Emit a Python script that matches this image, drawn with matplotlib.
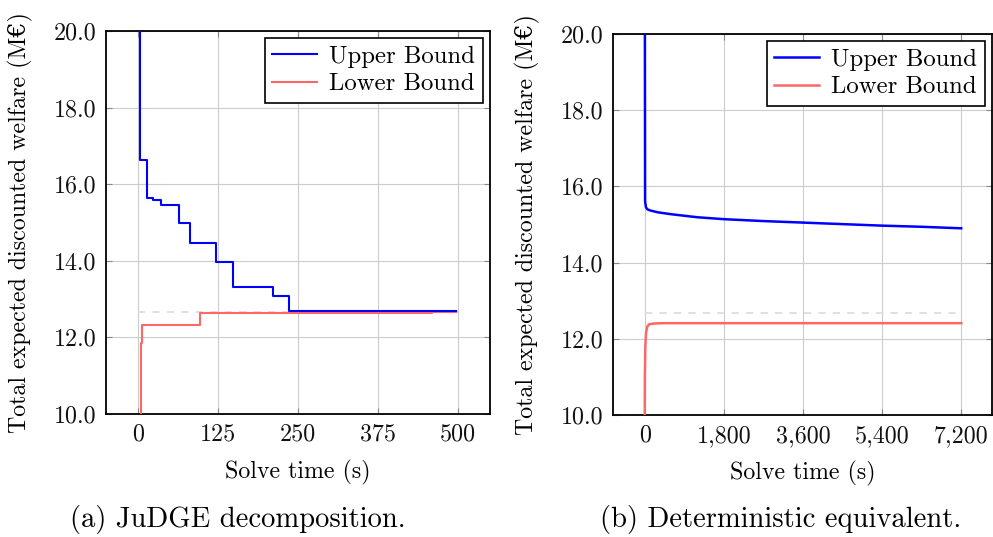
import matplotlib
matplotlib.use("Agg")
import matplotlib.pyplot as plt
from matplotlib.ticker import FixedLocator, FixedFormatter

plt.rcParams['font.family'] = ['cmr10', 'DejaVu Serif']
plt.rcParams['mathtext.fontset'] = 'cm'
plt.rcParams['axes.formatter.use_mathtext'] = True

# JuDGE decomposition data
jd_ub_t = [1.5, 2.5, 13.5, 23, 36, 64.5, 81, 122, 149, 211, 236, 330, 420, 497]
jd_ub_v = [25, 16.63, 15.64, 15.58, 15.45, 14.99, 14.46, 13.98, 13.32, 13.09, 12.70, 12.69, 12.68, 12.68]
jd_lb_t = [3.5, 4.5, 7, 97, 300, 420, 460, 497]
jd_lb_v = [5, 11.85, 12.32, 12.63, 12.63, 12.64, 12.66, 12.66]

# Deterministic equivalent data
de_ub_t = [0, 10, 30, 60, 120, 300, 600, 1200, 1800, 2700, 3600, 4500, 5400, 6300, 7200]
de_ub_v = [25, 15.6, 15.45, 15.40, 15.37, 15.32, 15.27, 15.19, 15.14, 15.09, 15.05, 15.01, 14.97, 14.94, 14.90]
de_lb_t = [0, 5, 15, 30, 60, 100, 200, 400, 7200]
de_lb_v = [9, 11.0, 11.8, 12.15, 12.32, 12.38, 12.40, 12.41, 12.41]

optimum = 12.67

yticks = [10, 12, 14, 16, 18, 20]
ytick_labels = ["10.0", "12.0", "14.0", "16.0", "18.0", "20.0"]
jd_xticks = [0, 125, 250, 375, 500]
jd_xtick_labels = ["0", "125", "250", "375", "500"]
de_xticks = [0, 1800, 3600, 5400, 7200]
de_xtick_labels = ["0", "1,800", "3,600", "5,400", "7,200"]

BLUE = (0, 0, 1)
RED = (1, 0.4, 0.4)

fig = plt.figure(figsize=(9.93, 5.37), dpi=100)
ax1 = fig.add_axes([106/993, 1-414/537, 384/993, 383/537])
ax2 = fig.add_axes([613/993, 1-415/537, 379/993, 381/537])

def style(ax, xticks, xlabels, xlim, tmax):
    ax.set_ylim(10, 20)
    ax.set_xlim(*xlim)
    ax.xaxis.set_major_locator(FixedLocator(xticks))
    ax.xaxis.set_major_formatter(FixedFormatter(xlabels))
    ax.yaxis.set_major_locator(FixedLocator(yticks))
    ax.yaxis.set_major_formatter(FixedFormatter(ytick_labels))
    ax.grid(True, color='#cccccc', lw=0.8)
    ax.set_axisbelow(True)
    ax.tick_params(direction='in', top=True, right=True, length=4, color='#888888',
                   labelsize=17.3, pad=7, labelcolor='#111111')
    for s in ax.spines.values():
        s.set_linewidth(1.3)
        s.set_color('black')
    ax.plot([0, tmax], [optimum, optimum], color='#dddddd', lw=1.3, ls=(0, (4, 4)), zorder=1.5)
    ax.set_xlabel("Solve time (s)", fontsize=17.2, labelpad=10)
    ax.set_ylabel("Total expected discounted welfare (M€)", fontsize=17.2, labelpad=15)

style(ax1, jd_xticks, jd_xtick_labels, (-50, 550), 500)
ax1.plot(jd_ub_t, jd_ub_v, color=BLUE, lw=1.5, drawstyle='steps-post', label='Upper Bound', zorder=4)
ax1.plot(jd_lb_t, jd_lb_v, color=RED, lw=1.5, drawstyle='steps-post', label='Lower Bound', zorder=3)

style(ax2, de_xticks, de_xtick_labels, (-720, 7900), 7200)
ax2.plot(de_ub_t, de_ub_v, color=BLUE, lw=1.8, label='Upper Bound', zorder=4)
ax2.plot(de_lb_t, de_lb_v, color=RED, lw=1.8, label='Lower Bound', zorder=3)

for ax in (ax1, ax2):
    leg = ax.legend(loc='upper right', fontsize=17.8, fancybox=False, framealpha=1,
                    edgecolor='black', borderaxespad=0.3, handlelength=1.8,
                    handletextpad=0.5, borderpad=0.3, labelspacing=0.2)
    leg.get_frame().set_linewidth(1.2)

fig.text(238/993, 1-519/537, "(a) JuDGE decomposition.", ha='center', va='center', fontsize=20.6)
fig.text(781/993, 1-519/537, "(b) Deterministic equivalent.", ha='center', va='center', fontsize=20.6)

fig.savefig("out.png", dpi=100)
